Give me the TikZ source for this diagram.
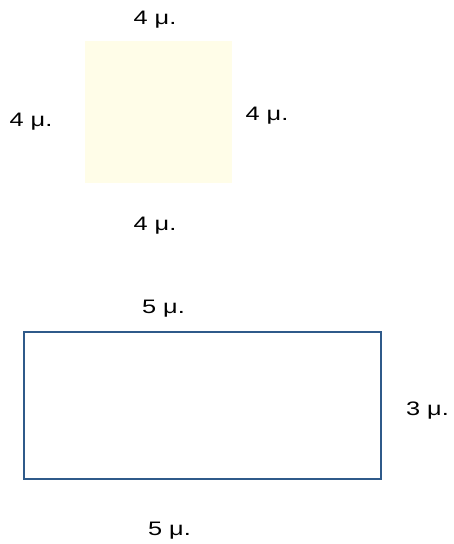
\documentclass[tikz,border=0pt]{standalone}
\usepackage{fontspec}
\setmainfont{Liberation Sans}
\definecolor{sqfill}{HTML}{FFFDE8}
\definecolor{rectline}{HTML}{2F5A8A}
\newcommand{\wlbl}[1]{\scalebox{1.3}[1]{#1}}
\begin{document}
\begin{tikzpicture}[x=1pt,y=-1pt,
  lbl/.style={font=\fontsize{19.5}{22}\selectfont, inner sep=0pt, anchor=base}]
\useasboundingbox (0,0) rectangle (453,544);
\fill[sqfill] (85,41) rectangle (232,183);
\node (sq) at (158.5,112) [minimum width=147pt, minimum height=142pt, inner sep=0pt] {};
\node[lbl] (sqt) at (155,24) {\wlbl{4 μ.}};
\node[lbl] (sql) at (31,126) {\wlbl{4 μ.}};
\node[lbl] (sqr) at (267,120.7) {\wlbl{4 μ.}};
\node[lbl] (sqb) at (155,230.7) {\wlbl{4 μ.}};
\draw[rectline, line width=2pt] (24,332) rectangle (381,479);
\node[lbl] (rt) at (163.5,313.3) {\wlbl{5 μ.}};
\node[lbl] (rr) at (427.5,415) {\wlbl{3 μ.}};
\node[lbl] (rb) at (169.5,535) {\wlbl{5 μ.}};
\end{tikzpicture}
\end{document}
